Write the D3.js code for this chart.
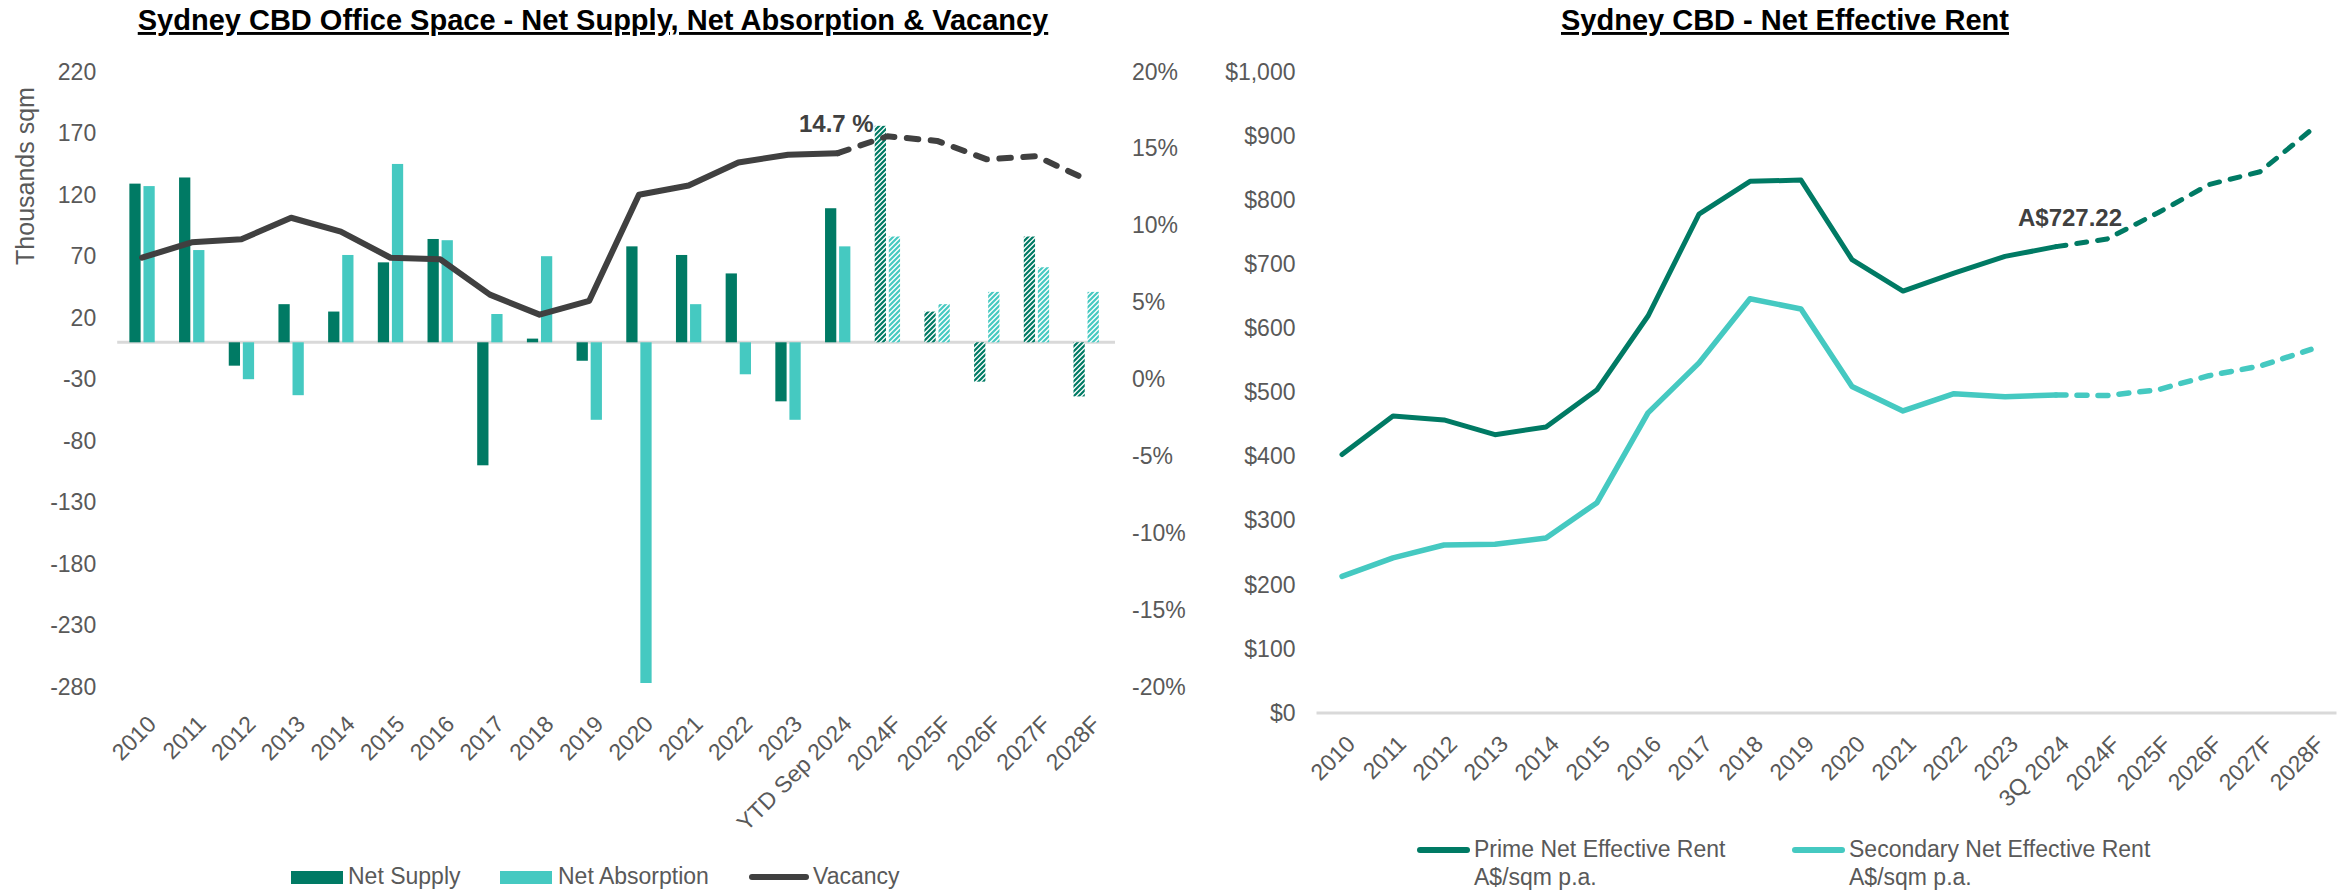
<!DOCTYPE html>
<html>
<head>
<meta charset="utf-8">
<script src="https://cdn.jsdelivr.net/npm/d3@7"></script>
<style>
  body { margin: 0; background: #fff; }
  svg text { font-family: "Liberation Sans", Arial, sans-serif; }
</style>
</head>
<body>
<svg id="chart" width="2341" height="890"></svg>
<script>
// ---- Office space: supply, absorption (thousand sqm) and vacancy (%) ----
const officeCategories = ["2010", "2011", "2012", "2013", "2014", "2015", "2016", "2017", "2018", "2019",
  "2020", "2021", "2022", "2023", "YTD Sep 2024", "2024F", "2025F", "2026F", "2027F", "2028F"];
const netSupply = [129, 134, -19, 31, 25, 65, 84, -100, 3, -15, 78, 71, 56, -48, 109, 176, 25, -32, 86, -44];
const netAbsorption = [127, 75, -30, -43, 71, 145, 83, 23, 70, -63, -277, 31, -26, -63, 78, 86, 31, 41, 61, 41];
const vacancy = [7.9, 8.9, 9.1, 10.5, 9.6, 7.9, 7.8, 5.5, 4.2, 5.1, 12.0, 12.6, 14.1, 14.6, 14.7, 15.8, 15.5, 14.3, 14.5, 13.0];
const officeForecastFrom = "2024F";      // hatched bars from here
const vacancyDashFrom = "YTD Sep 2024";  // dashed line from here
const supplyTicks = [220, 170, 120, 70, 20, -30, -80, -130, -180, -230, -280];
const vacancyTicks = [20, 15, 10, 5, 0, -5, -10, -15, -20];

// ---- Net effective rent (A$/sqm p.a.) ----
const rentCategories = ["2010", "2011", "2012", "2013", "2014", "2015", "2016", "2017", "2018", "2019",
  "2020", "2021", "2022", "2023", "3Q 2024", "2024F", "2025F", "2026F", "2027F", "2028F"];
const primeRent = [403, 463, 457, 434, 446, 504, 619, 778, 829, 831, 707, 658, 686, 712, 727.22, 739, 780, 824, 844, 909];
const secondaryRent = [213, 242, 262, 263, 273, 328, 468, 546, 646, 630, 509, 471, 498, 493, 496, 495, 504, 526, 541, 567];
const rentDashFrom = "3Q 2024";
const rentTicks = [0, 100, 200, 300, 400, 500, 600, 700, 800, 900, 1000];

const C = {
  supply: "#007A64",
  absorption: "#45C9C1",
  vacancy: "#404040",
  tick: "#595959",
  zero: "#D9D9D9"
};
const FONT = "'Liberation Sans', Arial, sans-serif";

const svg = d3.select("#chart");
const defs = svg.append("defs");

function hatch(id, color) {
  const p = defs.append("pattern")
    .attr("id", id)
    .attr("patternUnits", "userSpaceOnUse")
    .attr("width", 5).attr("height", 5);
  p.append("rect").attr("width", 5).attr("height", 5).attr("fill", "#fff");
  p.append("path")
    .attr("d", "M-1,1 L1,-1 M0,5 L5,0 M4,6 L6,4")
    .attr("stroke", color).attr("stroke-width", 2.2);
}
hatch("hatch-supply", C.supply);
hatch("hatch-absorption", C.absorption);

function styleAxis(g, anchor) {
  g.attr("font-family", FONT).attr("font-size", 23);
  g.select(".domain").remove();
  g.selectAll("text").attr("fill", C.tick).attr("text-anchor", anchor);
}

function title(x, y, text) {
  svg.append("text")
    .attr("x", x).attr("y", y)
    .attr("text-anchor", "middle")
    .attr("font-size", 29).attr("font-weight", "bold")
    .attr("fill", "#000")
    .style("text-decoration", "underline")
    .text(text);
}

function xLabels(scale, cats, y, dx) {
  svg.append("g").selectAll("text")
    .data(cats).join("text")
    .attr("transform", d => `translate(${scale(d) + scale.bandwidth() / 2 + dx},${y}) rotate(-45)`)
    .attr("dy", "0.71em")
    .attr("text-anchor", "end")
    .attr("font-size", 23)
    .attr("fill", C.tick)
    .text(d => d);
}

// ================= Left chart =================
const L = { left: 117.2, right: 1111, top: 71.7, bottom: 686.7 };
const xL = d3.scaleBand().domain(officeCategories).range([L.left, L.right]);
const bw = xL.bandwidth();
const xSub = d3.scaleBand().domain(["supply", "absorption"])
  .range([bw * 0.245, bw * 0.755]).paddingInner(0.2);
const yL = d3.scaleLinear().domain([-280, 220]).range([L.bottom, L.top]);
const yR = d3.scaleLinear().domain([-20, 20]).range([L.bottom, L.top]);

title(593, 30, "Sydney CBD Office Space - Net Supply, Net Absorption & Vacancy");

styleAxis(svg.append("g").attr("transform", `translate(${L.left},0)`)
  .call(d3.axisLeft(yL).tickValues(supplyTicks).tickSize(0).tickPadding(21).tickFormat(d => String(d))), "end");
styleAxis(svg.append("g").attr("transform", `translate(${L.right},0)`)
  .call(d3.axisRight(yR).tickValues(vacancyTicks).tickSize(0).tickPadding(21).tickFormat(d => d + "%")), "start");

svg.append("text")
  .attr("transform", "translate(34,176) rotate(-90)")
  .attr("text-anchor", "middle")
  .attr("font-size", 25)
  .attr("fill", C.tick)
  .text("Thousands sqm");

svg.append("line")
  .attr("x1", L.left).attr("x2", L.right + 4)
  .attr("y1", yL(0)).attr("y2", yL(0))
  .attr("stroke", C.zero).attr("stroke-width", 3);

const forecastIdx = officeCategories.indexOf(officeForecastFrom);
const barRows = officeCategories.map((c, i) => ({ c, i, supply: netSupply[i], absorption: netAbsorption[i] }));
const barG = svg.append("g");
["supply", "absorption"].forEach(key => {
  barG.selectAll(`rect.${key}`)
    .data(barRows).join("rect")
    .attr("class", key)
    .attr("x", d => xL(d.c) + xSub(key))
    .attr("width", xSub.bandwidth())
    .attr("y", d => yL(Math.max(0, d[key])))
    .attr("height", d => Math.abs(yL(d[key]) - yL(0)))
    .attr("fill", d => d.i >= forecastIdx ? `url(#hatch-${key})` : C[key]);
});

const vacancyPts = officeCategories.map((c, i) => ({ c, i, v: vacancy[i] }));
const dashIdx = officeCategories.indexOf(vacancyDashFrom);
const vacLine = d3.line().x(d => xL(d.c) + bw / 2).y(d => yR(d.v));
svg.append("path")
  .attr("d", vacLine(vacancyPts.slice(0, dashIdx + 1)))
  .attr("fill", "none").attr("stroke", C.vacancy)
  .attr("stroke-width", 6).attr("stroke-linejoin", "round").attr("stroke-linecap", "round");
svg.append("path")
  .attr("d", vacLine(vacancyPts.slice(dashIdx)))
  .attr("fill", "none").attr("stroke", C.vacancy)
  .attr("stroke-width", 6).attr("stroke-linejoin", "round").attr("stroke-linecap", "round")
  .attr("stroke-dasharray", "11.5,12.5");

const ytd = vacancyPts[dashIdx];
svg.append("text")
  .attr("x", xL(ytd.c) + bw / 2 + 36).attr("y", yR(ytd.v) - 21)
  .attr("text-anchor", "end")
  .attr("font-size", 24).attr("font-weight", "bold")
  .attr("fill", C.vacancy)
  .text(d3.format(".1f")(ytd.v) + " %");

xLabels(xL, officeCategories, 714, 4);

// legend
const legL = svg.append("g").attr("font-size", 23).attr("fill", C.tick);
legL.append("rect").attr("x", 291).attr("y", 871).attr("width", 52).attr("height", 13).attr("fill", C.supply);
legL.append("text").attr("x", 348).attr("y", 884).text("Net Supply");
legL.append("rect").attr("x", 500).attr("y", 871).attr("width", 52).attr("height", 13).attr("fill", C.absorption);
legL.append("text").attr("x", 558).attr("y", 884).text("Net Absorption");
legL.append("line").attr("x1", 752).attr("x2", 806).attr("y1", 877).attr("y2", 877)
  .attr("stroke", C.vacancy).attr("stroke-width", 6).attr("stroke-linecap", "round");
legL.append("text").attr("x", 813).attr("y", 884).text("Vacancy");

// ================= Right chart =================
const R = { left: 1316.5, right: 2336.5, top: 71.7, bottom: 713 };
const xR = d3.scaleBand().domain(rentCategories).range([R.left, R.right]);
const bwR = xR.bandwidth();
const yRent = d3.scaleLinear().domain([0, 1000]).range([R.bottom, R.top]);

title(1785, 30, "Sydney CBD - Net Effective Rent");

styleAxis(svg.append("g").attr("transform", `translate(${R.left},0)`)
  .call(d3.axisLeft(yRent).tickValues(rentTicks).tickSize(0).tickPadding(21)
    .tickFormat(d => "$" + d3.format(",")(d))), "end");

svg.append("line")
  .attr("x1", R.left).attr("x2", R.right)
  .attr("y1", yRent(0)).attr("y2", yRent(0))
  .attr("stroke", C.zero).attr("stroke-width", 3);

const rentDashIdx = rentCategories.indexOf(rentDashFrom);
const rentLine = d3.line().x(d => xR(d.c) + bwR / 2).y(d => yRent(d.v));
function rentSeries(values, color, width) {
  const pts = rentCategories.map((c, i) => ({ c, v: values[i] }));
  svg.append("path")
    .attr("d", rentLine(pts.slice(0, rentDashIdx + 1)))
    .attr("fill", "none").attr("stroke", color).attr("stroke-width", width)
    .attr("stroke-linejoin", "round").attr("stroke-linecap", "round");
  svg.append("path")
    .attr("d", rentLine(pts.slice(rentDashIdx)))
    .attr("fill", "none").attr("stroke", color).attr("stroke-width", width)
    .attr("stroke-linejoin", "round").attr("stroke-linecap", "round")
    .attr("stroke-dasharray", "10,11");
  return pts;
}
rentSeries(secondaryRent, C.absorption, 5.5);
const primePts = rentSeries(primeRent, C.supply, 5);

const q3 = primePts[rentDashIdx];
svg.append("text")
  .attr("x", xR(q3.c) + bwR / 2 + 14).attr("y", yRent(q3.v) - 21)
  .attr("text-anchor", "middle")
  .attr("font-size", 24).attr("font-weight", "bold")
  .attr("fill", C.vacancy)
  .text("A$" + d3.format(".2f")(q3.v));

xLabels(xR, rentCategories, 734, 3);

// legend
const legR = svg.append("g").attr("font-size", 23).attr("fill", C.tick);
[
  { x: 1417, color: C.supply, lines: ["Prime Net Effective Rent", "A$/sqm p.a."] },
  { x: 1792, color: C.absorption, lines: ["Secondary Net Effective Rent", "A$/sqm p.a."] }
].forEach(item => {
  legR.append("line").attr("x1", item.x + 3).attr("x2", item.x + 50).attr("y1", 850).attr("y2", 850)
    .attr("stroke", item.color).attr("stroke-width", 6).attr("stroke-linecap", "round");
  legR.append("text").attr("x", item.x + 57).attr("y", 857).text(item.lines[0]);
  legR.append("text").attr("x", item.x + 57).attr("y", 885).text(item.lines[1]);
});
</script>
</body>
</html>
